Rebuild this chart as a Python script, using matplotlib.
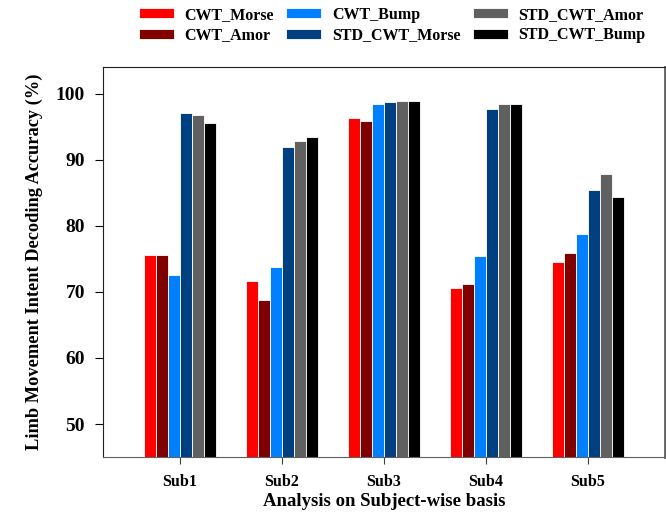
#!/usr/bin/env python3

import numpy as np
import matplotlib
matplotlib.use('Agg')
import matplotlib.pyplot as plt

subjects = ["Sub1", "Sub2", "Sub3", "Sub4", "Sub5"]
methods = ["CWT_Morse", "CWT_Amor", "CWT_Bump", "STD_CWT_Morse", "STD_CWT_Amor", "STD_CWT_Bump"]

cwt_morse = [75.6, 71.7, 96.3, 70.6, 74.5]
cwt_amor = [75.6, 68.8, 95.8, 71.2, 75.9]
cwt_bump = [72.6, 73.8, 98.4, 75.4, 78.8]
std_cwt_morse = [97.0, 91.9, 98.7, 97.6, 85.4]
std_cwt_amor = [96.7, 92.8, 98.9, 98.5, 87.8]
std_cwt_bump = [95.6, 93.5, 98.9, 98.5, 84.4]

COLORS = ["#ff0000", "#800000", "#0080ff", "#004080", "#606060", "#000000"]

plt.rcParams['font.family'] = ['Liberation Serif', 'DejaVu Serif']
plt.rcParams['font.weight'] = 'bold'

fig = plt.figure(figsize=(6.66, 5.13), dpi=100)
ax = fig.add_axes([0.1547, 0.109, 0.8438, 0.760])

series = [cwt_morse, cwt_amor, cwt_bump, std_cwt_morse, std_cwt_amor, std_cwt_bump]
x = np.arange(1, len(subjects) + 1)
width = 0.118
base = 45
for i, (vals, name) in enumerate(zip(series, methods)):
	offset = (i - 2.5) * width
	heights = [v - base for v in vals]
	ax.bar(x + offset, heights, width, bottom=base, color=COLORS[i],
		   edgecolor='white', linewidth=0.6, label=name)

ax.set_xlim(0.244, 5.76)
ax.set_ylim(45, 104)
ax.set_yticks([50, 60, 70, 80, 90, 100])
ax.set_xticks(x)
ax.set_xticklabels(subjects, fontsize=11.5, fontweight='bold')
for lbl in ax.get_yticklabels():
	lbl.set_fontsize(14)
	lbl.set_fontweight('bold')
ax.tick_params(axis='x', direction='out', length=5, pad=7, color='#404040')
ax.tick_params(axis='y', direction='out', length=6, pad=7)

ax.set_xlabel("Analysis on Subject-wise basis", fontsize=13.5, fontweight='bold', labelpad=2)
ax.set_ylabel("Limb Movement Intent Decoding Accuracy (%)", fontsize=13.2, fontweight='bold', labelpad=9)

ax.spines['left'].set_color('#202020')
ax.spines['top'].set_color('#202020')
ax.spines['bottom'].set_color('#606060')
ax.spines['right'].set_color('#606060')
ax.spines['right'].set_linewidth(2)

fig.legend(loc='upper left', bbox_to_anchor=(0.208, 0.987), ncol=3, frameon=False,
		   prop={'size': 11.5, 'weight': 'bold'}, borderpad=0, borderaxespad=0,
		   handlelength=2.2, handleheight=0.65, handletextpad=0.65,
		   columnspacing=0.8, labelspacing=0.3)

plt.savefig("out.png", dpi=100)
